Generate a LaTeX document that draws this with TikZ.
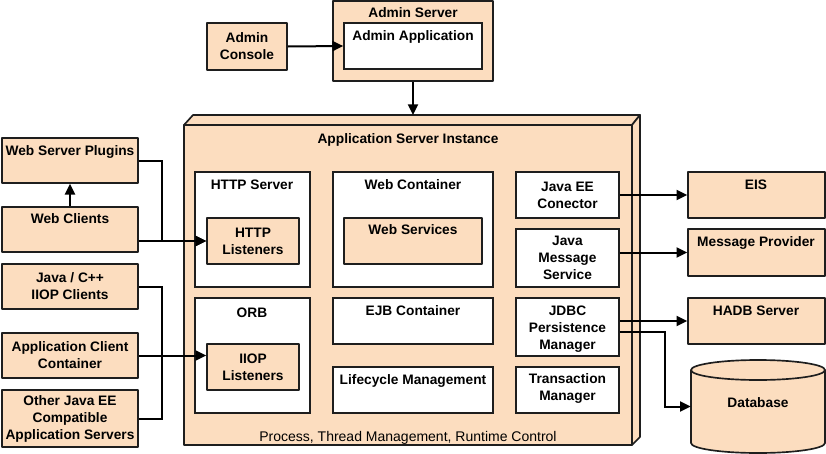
\documentclass[tikz,border=0pt]{standalone}
\usepackage{fontspec}
\setmainfont{Liberation Sans}
\usetikzlibrary{fit,arrows.meta,calc}
\definecolor{peach}{HTML}{FCDDBF}
\definecolor{edge}{HTML}{1E1E1E}
\begin{document}
\begin{tikzpicture}[x=0.75pt,y=-0.75pt,
  every node/.style={font=\fontsize{10.3}{12.75}\selectfont\bfseries},
  pbox/.style={draw=edge, line width=1.25pt, fill=peach, inner sep=0pt, line join=round},
  wbox/.style={draw=edge, line width=1.25pt, fill=white, inner sep=0pt},
  ttl/.style={anchor=base, inner sep=0pt},
  ml/.style={align=center, inner sep=0pt},
  arr/.style={draw=black, line width=1.5pt, -{Triangle[length=8pt,width=7.5pt]}},
  ln/.style={draw=black, line width=1.5pt},
]
\useasboundingbox (0,0) rectangle (826,454);

% Admin
\node[pbox, fit={(207,23) (287,70)}] (acons) {};
\node[ml] at (acons.center) {Admin\\Console};
\node[pbox, fit={(333,1) (493,81)}] (as) {};
\node[ttl] at (413,17) {Admin Server};
\node[wbox, fit={(344,23) (482,69)}] (aapp) {};
\node[ttl] at (413,40) {Admin Application};

% Application server instance (3D box)
\draw[pbox] (184,125) -- (193,115) -- (640,115) -- (632,125) -- cycle;
\draw[pbox] (632,125) -- (640,115) -- (640,437) -- (632,445) -- cycle;
\node[pbox, fit={(184,125) (632,445)}] (inst) {};
\coordinate (instTop) at (413,115);
\node[ttl] at (408,143) {Application Server Instance};

\node[wbox, fit={(195,172) (310,287)}] (hs) {};
\node[ttl] at (252,189) {HTTP Server};
\node[pbox, fit={(207,218) (299,264)}] (hl) {};
\node[ml] at (hl.center) {HTTP\\Listeners};

\node[wbox, fit={(333,172) (493,287)}] (wcn) {};
\node[ttl] at (413,189) {Web Container};
\node[pbox, fit={(344,218) (482,264)}] (ws) {};
\node[ttl] at (413,234) {Web Services};

\node[wbox, fit={(516,172) (619,218)}] (jeec) {};
\node[ml] at (jeec.center) {Java EE\\Conector};
\node[wbox, fit={(516,229) (619,287)}] (jms) {};
\node[ml] at (jms.center) {Java\\Message\\Service};

\node[wbox, fit={(195,298) (310,413)}] (orb) {};
\node[ttl] at (252,317) {ORB};
\node[pbox, fit={(207,344) (299,390)}] (il) {};
\node[ml] at (il.center) {IIOP\\Listeners};

\node[wbox, fit={(333,298) (493,344)}] (ejb) {};
\node[ttl] at (413,315) {EJB Container};
\node[wbox, fit={(333,367) (493,413)}] (lm) {};
\node[ttl] at (413,384) {Lifecycle Management};

\node[wbox, fit={(516,298) (619,356)}] (jdbc) {};
\node[ml] at ([yshift=-1.5pt]jdbc.center) {JDBC\\Persistence\\Manager};
\node[wbox, fit={(516,367) (619,413)}] (tm) {};
\node[ml] at (567.5,388) {Transaction\\Manager};

\node[ttl, font=\fontsize{10.5}{12}\selectfont] at (408,441) {Process, Thread Management, Runtime Control};

% Left clients
\node[pbox, fit={(2,138) (138,183)}] (wsp) {};
\node[ttl] at (70,155) {Web Server Plugins};
\node[pbox, fit={(2,207) (138,252)}] (wc) {};
\node[ttl] at (70,223) {Web Clients};
\node[pbox, fit={(2,264) (138,309)}] (jc) {};
\node[ml] at (jc.center) {Java / C++\\IIOP Clients};
\node[pbox, fit={(2,333) (138,378)}] (acc) {};
\node[ml] at (acc.center) {Application Client\\Container};
\node[pbox, fit={(2,390) (138,447)}] (ojs) {};
\node[ml] at (ojs.center) {Other Java EE\\Compatible\\Application Servers};

% Right back-ends
\node[pbox, fit={(688,172) (825,218)}] (eis) {};
\node[ttl] at (756,189) {EIS};
\node[pbox, fit={(688,229) (825,276)}] (mp) {};
\node[ttl] at (756,246) {Message Provider};
\node[pbox, fit={(688,298) (825,344)}] (hadb) {};
\node[ttl] at (756,315) {HADB Server};

% Database cylinder
\node[inner sep=0pt, fit={(691,360) (825,453)}] (db) {};
\draw[pbox] (691,370) -- (691,443) arc[start angle=180, end angle=360, x radius=50.25pt, y radius=7.5pt]
  -- (825,370) arc[start angle=0, end angle=180, x radius=50.25pt, y radius=7.5pt] -- cycle;
\draw[draw=edge, line width=1.25pt] (691,370) arc[start angle=180, end angle=360, x radius=50.25pt, y radius=7.5pt];
\node[ml] at (758,403) {Database};

% Connectors
\draw[arr] (acons.east) -- (aapp.west);
\draw[arr] (as.south) -- (instTop);
\draw[arr] (wc.north) -- (wsp.south);
\draw[arr] (wsp.east) -- ++(23,0) |- (hl.west);
\draw[arr] (wc.east |- hl.west) -- (hl.west);
\draw[ln] (jc.east) -- ++(23,0) |- (ojs.east);
\draw[arr] (acc.east) -- (acc.east -| il.west);
\draw[arr] (jeec.east) -- (eis.west);
\draw[arr] (jms.east |- mp.west) -- (mp.west);
\draw[arr] (jdbc.east |- hadb.west) -- (hadb.west);
\draw[arr] ($(jdbc.east)+(0,5)$) -- ++(45,0) |- (db.west);
\end{tikzpicture}
\end{document}
